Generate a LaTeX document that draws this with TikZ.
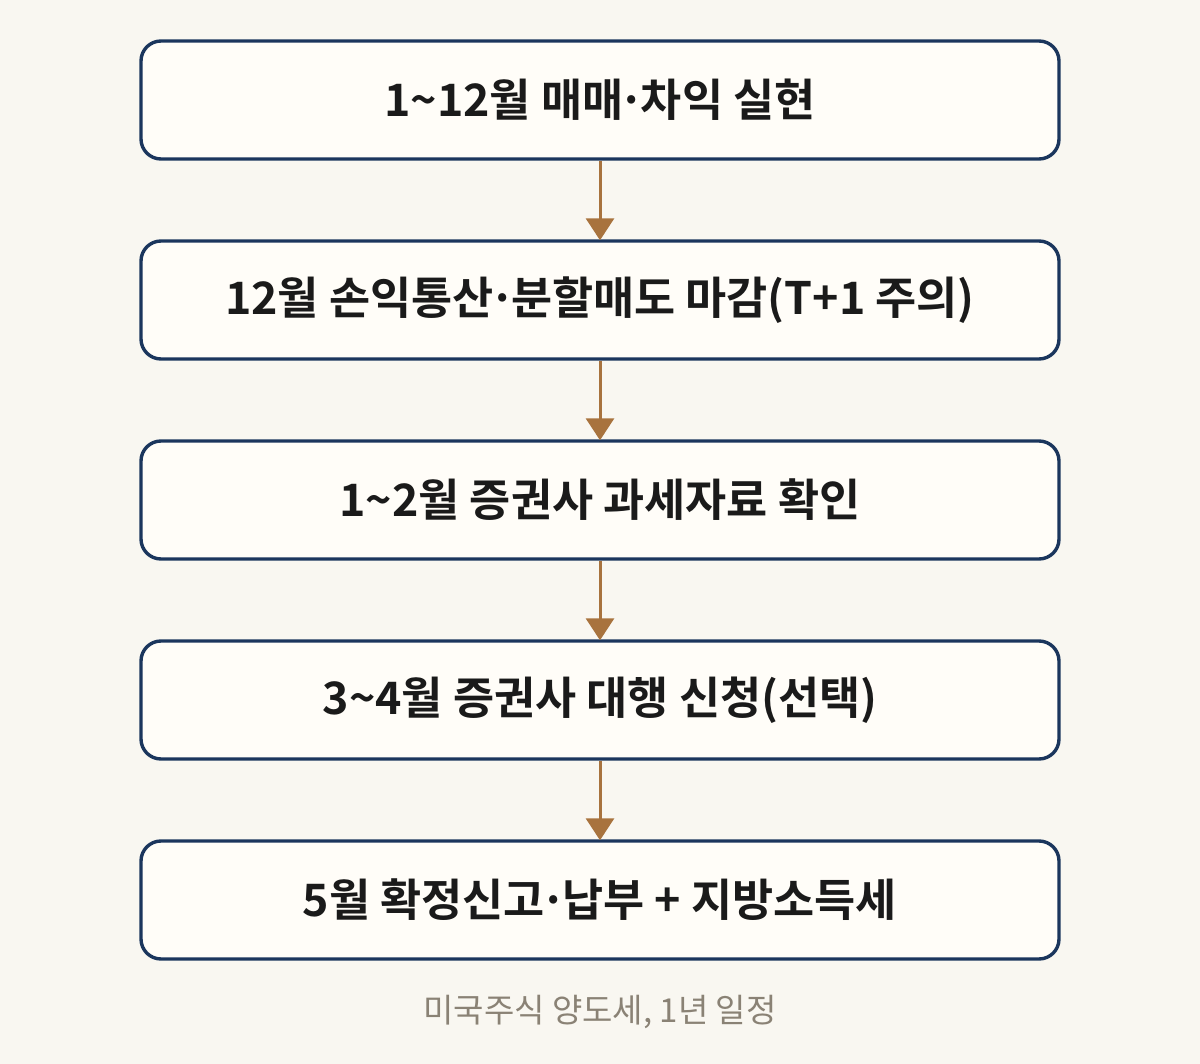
\documentclass[tikz,border=0pt]{standalone}
\usepackage{fontspec}
\setmainfont{Noto Sans CJK KR}
\newfontfamily\kbold{Noto Sans CJK KR Bold}
\newcommand{\mdot}{\kern-0.1em·\kern-0.1em}
\usetikzlibrary{arrows.meta}
\definecolor{bgc}{HTML}{F9F7F1}
\definecolor{boxfill}{HTML}{FFFDF8}
\definecolor{boxline}{HTML}{1B365D}
\definecolor{arrowc}{HTML}{A8733E}
\definecolor{txtc}{HTML}{1A1A1A}
\definecolor{capc}{HTML}{8A8275}
\tikzset{
  stepbox/.style={draw=boxline, line width=3.4pt, fill=boxfill, rounded corners=20pt,
    minimum width=918pt, minimum height=118pt, inner sep=0pt,
    font=\kbold\fontsize{44.7}{48}\selectfont, text=txtc},
  flowarrow/.style={draw=arrowc, line width=3pt, -{Triangle[width=28pt,length=22pt]}, shorten >=-1pt},
}
\begin{document}
\begin{tikzpicture}[x=1pt,y=-1pt]
\fill[bgc] (0,0) rectangle (1200,1064);
\useasboundingbox (0,0) rectangle (1200,1064);
\node[stepbox] (s1) at (600,100) {1\textasciitilde12월 매매\mdot 차익 실현};
\node[stepbox] (s2) at (600,300) {12월 손익통산\mdot 분할매도 마감(T+1 주의)};
\node[stepbox] (s3) at (600,500) {1\textasciitilde2월 증권사 과세자료 확인};
\node[stepbox] (s4) at (600,700) {3\textasciitilde4월 증권사 대행 신청(선택)};
\node[stepbox] (s5) at (600,900) {5월 확정신고\mdot 납부 + 지방소득세};
\node[font=\fontsize{33}{36}\selectfont, text=capc] (cap) at (600,1012) {미국주식 양도세, 1년 일정};
\draw[flowarrow] (s1.south) -- (s2.north);
\draw[flowarrow] (s2.south) -- (s3.north);
\draw[flowarrow] (s3.south) -- (s4.north);
\draw[flowarrow] (s4.south) -- (s5.north);
\end{tikzpicture}
\end{document}
